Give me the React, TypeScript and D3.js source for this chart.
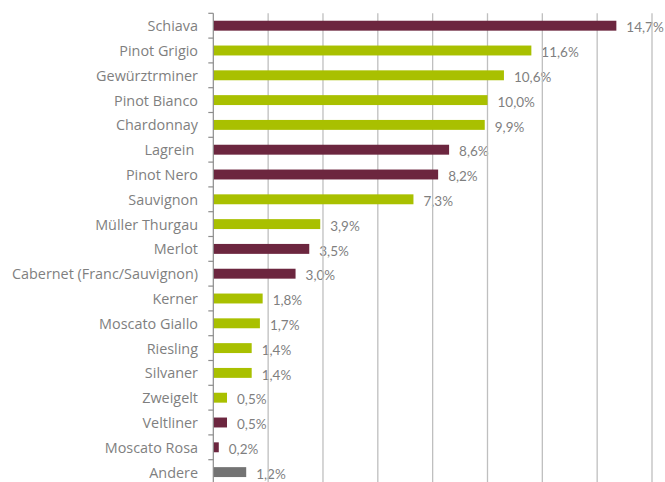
import React from "react";
import * as d3 from "d3";

const categories = [
  "Schiava", "Pinot Grigio", "Gewürztrminer", "Pinot Bianco", "Chardonnay",
  "Lagrein ", "Pinot Nero", "Sauvignon", "Müller Thurgau", "Merlot",
  "Cabernet (Franc/Sauvignon)", "Kerner", "Moscato Giallo", "Riesling",
  "Silvaner", "Zweigelt", "Veltliner", "Moscato Rosa", "Andere",
];
const values = [14.7, 11.6, 10.6, 10.0, 9.9, 8.6, 8.2, 7.3, 3.9, 3.5, 3.0, 1.8, 1.7, 1.4, 1.4, 0.5, 0.5, 0.2, 1.2];
const types = ["red", "white", "white", "white", "white", "red", "red", "white", "white", "red", "red", "white", "white", "white", "white", "white", "red", "red", "other"];
const xTicks = [0, 2, 4, 6, 8, 10, 12, 14, 16];

const colorOf: Record<string, string> = { red: "#6C263F", white: "#A9C000", other: "#737373" };

export default function App() {
  const W = 665, H = 482;
  const left = 213.3, right = 652, top = 13.3, bottom = 484.5;
  const x = d3.scaleLinear().domain([0, 16]).range([left, right]);
  const y = d3.scaleBand<string>().domain(categories.map((c, i) => i + "")).range([top, bottom]).paddingInner(0.6).paddingOuter(0.3);
  const yb = d3.scaleBand<string>().domain(categories.map((c, i) => i + "")).range([top, bottom]);
  const fmt = (v: number) => v.toFixed(1).replace(".", ",") + "%";
  const textColor = "#7F7F7F";
  return (
    <svg width={W} height={H} style={{ position: "absolute", left: 0, top: 0, display: "block" }}>
      <rect width={W} height={H} fill="#fff" />
      {categories.map((c, i) => (
        <text key={"l" + i} x={198} y={yb(i + "")! + yb.bandwidth() / 2 + 0.5} dy="0.35em" textAnchor="end"
          fontFamily="'Open Sans', sans-serif" fontSize={14.4} fill={textColor} style={{ whiteSpace: "pre" }}>{c}</text>
      ))}
      {values.map((v, i) => (
        <text key={"v" + i} x={x(v) + 10} y={y(i + "")! + y.bandwidth() / 2 + 2} dy="0.35em"
          fontFamily="Lato, sans-serif" fontSize={13.5} fill={textColor}>{fmt(v)}</text>
      ))}
      {xTicks.slice(1).map((t) => (
        <line key={"g" + t} x1={x(t)} x2={x(t)} y1={top} y2={bottom} stroke="#BFBFBF" strokeWidth={1.3} />
      ))}
      {values.map((v, i) => (
        <rect key={"b" + i} x={x(0)} y={y(i + "")!} width={x(v) - x(0)} height={y.bandwidth()} fill={colorOf[types[i]]} />
      ))}
      <line x1={left} x2={left} y1={top} y2={bottom} stroke="#8C8C8C" strokeWidth={1.2} />
      {d3.range(categories.length + 1).map((i) => {
        const yy = top + i * yb.step();
        return <line key={"t" + i} x1={left - 5} x2={left} y1={yy} y2={yy} stroke="#8C8C8C" strokeWidth={1.2} />;
      })}
    </svg>
  );
}
